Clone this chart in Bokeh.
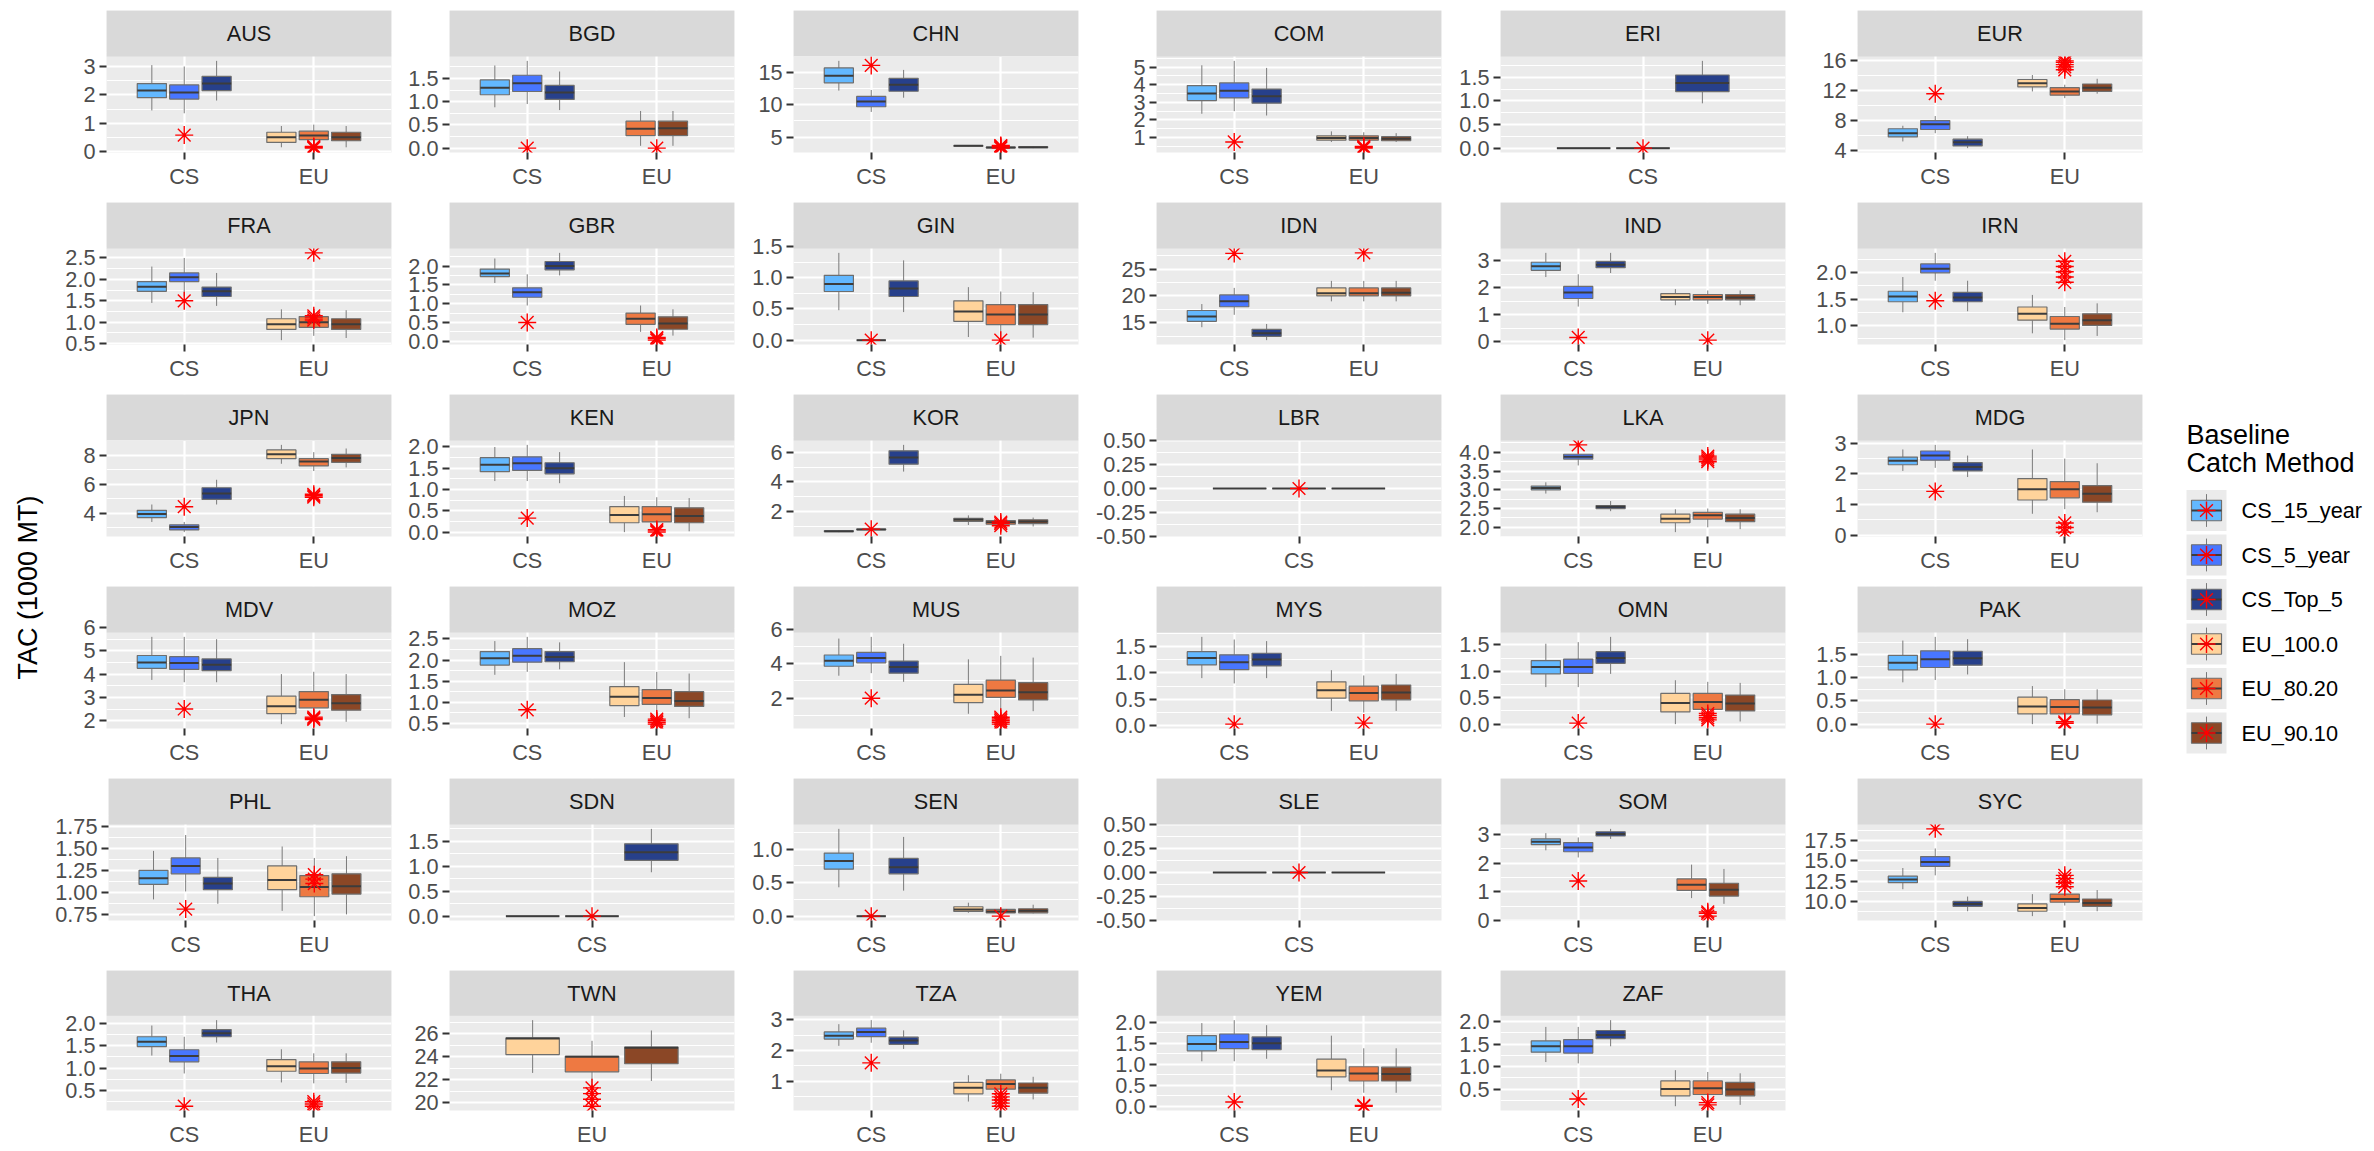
import numpy as np
from bokeh.plotting import figure
from bokeh.models import Range1d, FixedTicker, PrintfTickFormatter, Spacer, ColumnDataSource
from bokeh.layouts import row, column
from bokeh.core.properties import value
from bokeh.embed import file_html
from bokeh.resources import INLINE

FONT = "Liberation Sans"

countries = ["AUS", "BGD", "CHN", "COM", "ERI", "EUR",
             "FRA", "GBR", "GIN", "IDN", "IND", "IRN",
             "JPN", "KEN", "KOR", "LBR", "LKA", "MDG",
             "MDV", "MOZ", "MUS", "MYS", "OMN", "PAK",
             "PHL", "SDN", "SEN", "SLE", "SOM", "SYC",
             "THA", "TWN", "TZA", "YEM", "ZAF"]

methods = ["CS_15_year", "CS_5_year", "CS_Top_5", "EU_100.0", "EU_80.20", "EU_90.10"]
method_colors = ["#63B8FF", "#4876FF", "#27408B", "#FFD39B", "#EE7942", "#8B4726"]

# five-number summaries per country: (lower whisker, Q1, median, Q3, upper whisker)
cs_15_year = [
    (1.45, 1.9, 2.15, 2.4, 3.05), (0.88, 1.15, 1.3, 1.47, 1.78), (12.2, 13.4, 14.5, 15.7, 16.8),
    (2.35, 3.1, 3.5, 3.95, 5.1), (0, 0, 0, 0, 0), (5.2, 5.8, 6.3, 6.9, 7.3),
    (1.45, 1.72, 1.83, 1.95, 2.3), (1.55, 1.72, 1.8, 1.92, 2.2), (0.48, 0.78, 0.9, 1.04, 1.4),
    (14.2, 15.3, 16.2, 17.3, 18.5), (2.4, 2.65, 2.8, 2.95, 3.3), (1.25, 1.45, 1.55, 1.65, 1.92),
    (3.4, 3.7, 3.95, 4.2, 4.6), (1.2, 1.42, 1.58, 1.75, 2.0), (0.62, 0.66, 0.68, 0.71, 0.75),
    (0, 0, 0, 0, 0), (2.9, 3.0, 3.05, 3.1, 3.2), (2.1, 2.3, 2.43, 2.55, 2.8),
    (3.75, 4.25, 4.5, 4.8, 5.6), (1.65, 1.88, 2.04, 2.2, 2.45), (3.3, 3.85, 4.17, 4.5, 5.45),
    (0.9, 1.15, 1.28, 1.4, 1.68), (0.7, 0.95, 1.08, 1.2, 1.52), (0.9, 1.17, 1.32, 1.48, 1.8),
    (0.92, 1.09, 1.16, 1.25, 1.47), (0, 0, 0, 0, 0), (0.43, 0.7, 0.82, 0.94, 1.3),
    (0, 0, 0, 0, 0), (2.45, 2.65, 2.75, 2.85, 3.05), (11.5, 12.3, 12.7, 13.1, 14.1),
    (1.28, 1.48, 1.59, 1.7, 1.95), None, (2.15, 2.37, 2.48, 2.6, 2.85),
    (1.07, 1.32, 1.48, 1.68, 1.98), (1.1, 1.32, 1.45, 1.57, 1.88),
]
cs_5_year = [
    (1.35, 1.85, 2.08, 2.35, 3.0), (0.95, 1.22, 1.4, 1.57, 1.88), (8.9, 9.7, 10.5, 11.3, 12.3),
    (2.5, 3.25, 3.65, 4.1, 5.35), (0, 0, 0, 0, 0), (6.3, 6.8, 7.5, 8.0, 8.6),
    (1.6, 1.95, 2.05, 2.15, 2.5), (0.95, 1.17, 1.3, 1.42, 1.78), (0, 0, 0, 0, 0),
    (16.5, 18.0, 19.0, 20.2, 21.5), (1.3, 1.6, 1.82, 2.05, 2.5), (1.85, 2.0, 2.08, 2.17, 2.38),
    (2.7, 2.85, 3.05, 3.2, 3.4), (1.2, 1.45, 1.62, 1.77, 2.05), (0.74, 0.78, 0.8, 0.83, 0.87),
    (0, 0, 0, 0, 0), (3.65, 3.82, 3.88, 3.95, 4.15), (2.2, 2.45, 2.6, 2.75, 2.95),
    (3.65, 4.2, 4.48, 4.75, 5.6), (1.72, 1.95, 2.1, 2.27, 2.55), (3.45, 4.05, 4.32, 4.65, 5.55),
    (0.8, 1.06, 1.2, 1.34, 1.63), (0.7, 0.96, 1.08, 1.23, 1.55), (0.95, 1.22, 1.4, 1.58, 1.88),
    (1.01, 1.21, 1.3, 1.39, 1.65), (0, 0, 0, 0, 0), (0, 0, 0, 0, 0),
    (0, 0, 0, 0, 0), (2.2, 2.4, 2.55, 2.72, 2.9), (13.2, 14.3, 14.85, 15.5, 16.5),
    (0.88, 1.14, 1.27, 1.41, 1.7), None, (2.25, 2.45, 2.6, 2.72, 2.98),
    (1.07, 1.37, 1.53, 1.72, 2.05), (1.07, 1.3, 1.45, 1.6, 1.88),
]
cs_top_5 = [
    (1.8, 2.15, 2.4, 2.65, 3.2), (0.82, 1.05, 1.2, 1.35, 1.65), (11.1, 12.1, 13.1, 14.1, 15.4),
    (2.25, 2.95, 3.35, 3.75, 4.95), (0.95, 1.2, 1.38, 1.55, 1.85), (4.3, 4.6, 5.1, 5.5, 5.9),
    (1.38, 1.6, 1.72, 1.82, 2.15), (1.75, 1.9, 2.0, 2.12, 2.35), (0.45, 0.7, 0.83, 0.95, 1.28),
    (11.8, 12.5, 13.1, 13.8, 14.8), (2.55, 2.75, 2.86, 2.98, 3.3), (1.27, 1.45, 1.53, 1.63, 1.85),
    (4.6, 4.95, 5.35, 5.75, 6.3), (1.15, 1.37, 1.5, 1.63, 1.88), (4.7, 5.2, 5.65, 6.1, 6.5),
    (0, 0, 0, 0, 0), (2.43, 2.5, 2.55, 2.58, 2.7), (1.9, 2.1, 2.23, 2.37, 2.6),
    (3.65, 4.15, 4.4, 4.65, 5.5), (1.78, 1.96, 2.07, 2.2, 2.42), (2.95, 3.45, 3.8, 4.15, 5.15),
    (0.9, 1.13, 1.25, 1.37, 1.6), (0.95, 1.15, 1.25, 1.37, 1.65), (1.07, 1.27, 1.42, 1.57, 1.83),
    (0.87, 1.03, 1.1, 1.17, 1.39), (0.88, 1.12, 1.28, 1.45, 1.75), (0.38, 0.63, 0.73, 0.86, 1.18),
    (0, 0, 0, 0, 0), (2.85, 2.95, 3.02, 3.1, 3.2), (8.8, 9.4, 9.7, 10.0, 10.6),
    (1.57, 1.7, 1.78, 1.86, 2.07), None, (2.05, 2.2, 2.32, 2.43, 2.65),
    (1.13, 1.35, 1.5, 1.65, 1.93), (1.45, 1.62, 1.7, 1.8, 2.03),
]
eu_100_0 = [
    (0.15, 0.32, 0.5, 0.68, 0.9), None, (3.55, 3.6, 3.65, 3.7, 3.75),
    (0.75, 0.85, 0.98, 1.1, 1.35), None, (11.9, 12.5, 13.0, 13.5, 14.1),
    (0.58, 0.83, 0.95, 1.08, 1.3), None, (0.05, 0.3, 0.46, 0.63, 0.85),
    (19.0, 20.0, 20.5, 21.5, 22.8), (1.35, 1.55, 1.66, 1.78, 1.95), (0.85, 1.1, 1.22, 1.35, 1.58),
    (7.4, 7.75, 8.05, 8.35, 8.7), (0.0, 0.22, 0.4, 0.6, 0.85), (1.1, 1.35, 1.45, 1.55, 1.75),
    None, (1.87, 2.12, 2.23, 2.35, 2.48), (0.7, 1.15, 1.5, 1.85, 2.8),
    (1.85, 2.3, 2.62, 3.05, 4.0), (0.65, 0.92, 1.13, 1.37, 1.95), (1.1, 1.75, 2.2, 2.8, 4.25),
    (0.28, 0.52, 0.67, 0.83, 1.05), (0.0, 0.23, 0.4, 0.58, 0.83), (0.0, 0.22, 0.38, 0.58, 0.82),
    (0.79, 1.03, 1.14, 1.3, 1.52), None, (0.05, 0.07, 0.1, 0.14, 0.2),
    None, None, (8.2, 8.8, 9.2, 9.7, 10.9),
    (0.68, 0.93, 1.04, 1.19, 1.42), (22.6, 24.2, 25.6, 25.65, 27.2), (0.35, 0.6, 0.8, 0.97, 1.2),
    (0.38, 0.7, 0.85, 1.12, 1.68), (0.12, 0.35, 0.5, 0.68, 0.92),
]
eu_80_20 = [
    (0.15, 0.42, 0.57, 0.72, 0.95), (0.05, 0.27, 0.42, 0.58, 0.8), (3.3, 3.35, 3.4, 3.45, 3.5),
    (0.75, 0.85, 0.98, 1.1, 1.3), None, (11.0, 11.4, 11.9, 12.4, 12.8),
    (0.68, 0.88, 1.0, 1.13, 1.32), (0.25, 0.45, 0.6, 0.75, 0.95), (0.02, 0.25, 0.41, 0.57, 0.78),
    (19.0, 20.0, 20.5, 21.5, 22.8), (1.4, 1.55, 1.66, 1.75, 1.9), (0.72, 0.93, 1.03, 1.17, 1.35),
    (6.9, 7.25, 7.55, 7.75, 8.2), (0.03, 0.24, 0.42, 0.6, 0.82), (1.0, 1.15, 1.28, 1.4, 1.55),
    None, (2.0, 2.22, 2.32, 2.4, 2.5), (0.85, 1.22, 1.5, 1.75, 2.5),
    (2.0, 2.55, 2.9, 3.25, 4.1), (0.6, 0.95, 1.1, 1.3, 1.72), (1.3, 2.05, 2.45, 3.05, 4.45),
    (0.25, 0.47, 0.62, 0.75, 0.95), (0.05, 0.28, 0.42, 0.58, 0.8), (0.0, 0.22, 0.37, 0.53, 0.75),
    (0.73, 0.95, 1.06, 1.19, 1.39), None, (0.03, 0.05, 0.07, 0.1, 0.13),
    None, (0.78, 1.05, 1.25, 1.45, 1.95), (9.5, 9.9, 10.3, 10.9, 11.6),
    (0.66, 0.88, 0.99, 1.14, 1.33), (20.9, 22.7, 24.0, 24.05, 25.4), (0.48, 0.75, 0.92, 1.05, 1.25),
    (0.32, 0.6, 0.78, 0.94, 1.38), (0.15, 0.38, 0.52, 0.68, 0.88),
]
eu_90_10 = [
    (0.15, 0.38, 0.5, 0.68, 0.9), (0.05, 0.27, 0.43, 0.58, 0.8), (3.3, 3.38, 3.45, 3.5, 3.55),
    (0.75, 0.82, 0.93, 1.05, 1.25), None, (11.6, 11.9, 12.4, 12.9, 13.6),
    (0.63, 0.83, 0.95, 1.08, 1.28), (0.15, 0.32, 0.47, 0.65, 0.85), (0.04, 0.25, 0.41, 0.57, 0.77),
    (19.0, 20.0, 20.6, 21.5, 22.8), (1.35, 1.55, 1.64, 1.75, 1.9), (0.8, 1.0, 1.1, 1.22, 1.42),
    (7.15, 7.5, 7.8, 8.05, 8.45), (0.02, 0.22, 0.38, 0.57, 0.8), (1.0, 1.2, 1.33, 1.45, 1.6),
    None, (1.95, 2.15, 2.25, 2.35, 2.48), (0.75, 1.08, 1.35, 1.62, 2.35),
    (1.95, 2.45, 2.75, 3.12, 4.0), (0.62, 0.9, 1.03, 1.25, 1.68), (1.25, 1.9, 2.35, 2.9, 4.35),
    (0.28, 0.49, 0.63, 0.77, 0.98), (0.05, 0.25, 0.39, 0.55, 0.78), (0.01, 0.2, 0.36, 0.52, 0.75),
    (0.75, 0.98, 1.07, 1.21, 1.41), None, (0.04, 0.05, 0.08, 0.11, 0.17),
    None, (0.58, 0.85, 1.07, 1.3, 1.8), (8.8, 9.4, 9.8, 10.3, 11.4),
    (0.67, 0.89, 1.0, 1.14, 1.33), (21.9, 23.4, 24.8, 24.85, 26.3), (0.42, 0.62, 0.8, 0.95, 1.15),
    (0.32, 0.6, 0.77, 0.93, 1.38), (0.15, 0.35, 0.49, 0.65, 0.85),
]
series = [cs_15_year, cs_5_year, cs_top_5, eu_100_0, eu_80_20, eu_90_10]

# baseline catch values (red asterisks) at the CS and EU positions
cs_points = [[0.58], [0.0], [16.1], [0.75], [0.0], [11.6],
             [1.5], [0.5], [0.0], [27.9], [0.15], [1.47],
             [4.45], [0.33], [0.82], [0.0], [4.2], [1.43],
             [2.5], [0.82], [2.0], [0.03], [0.02], [0.0],
             [0.81], [0.0], [0.0], [0.0], [1.38], [18.9],
             [0.15], [], [1.6], [0.1], [0.28]]
eu_points = [[0.12, 0.15, 0.18], [0.0], [3.3, 3.45, 3.6, 3.7], [0.4, 0.45, 0.5], [], [14.8, 15.2, 15.5, 15.8, 16.0],
             [2.62, 1.05, 1.1, 1.15], [0.03, 0.07, 0.1], [0.0], [28.0], [0.05], [1.82, 1.92, 2.02, 2.12, 2.22],
             [5.1, 5.2, 5.3], [0.0, 0.03, 0.06], [1.05, 1.2, 1.3], [], [3.75, 3.8, 3.85, 3.9], [0.1, 0.25, 0.4],
             [2.05, 2.1, 2.15], [0.48, 0.52, 0.56, 0.6], [0.5, 0.6, 0.7, 0.8, 0.9], [0.05], [0.08, 0.12, 0.16, 0.2], [0.02, 0.05],
             [1.1, 1.15, 1.2], [], [0.0], [], [0.15, 0.25, 0.3], [11.8, 12.3, 12.8, 13.2],
             [0.15, 0.2, 0.25], [19.7, 20.3, 20.8, 21.3], [0.2, 0.3, 0.4, 0.5, 0.6], [0.0, 0.02], [0.15, 0.2]]

y_ticks = [[0, 1, 2, 3], [0, 0.5, 1, 1.5], [5, 10, 15], [1, 2, 3, 4, 5], [0, 0.5, 1, 1.5], [4, 8, 12, 16],
           [0.5, 1, 1.5, 2, 2.5], [0, 0.5, 1, 1.5, 2], [0, 0.5, 1, 1.5], [15, 20, 25], [0, 1, 2, 3], [1, 1.5, 2],
           [4, 6, 8], [0, 0.5, 1, 1.5, 2], [2, 4, 6], [-0.5, -0.25, 0, 0.25, 0.5], [2, 2.5, 3, 3.5, 4], [0, 1, 2, 3],
           [2, 3, 4, 5, 6], [0.5, 1, 1.5, 2, 2.5], [2, 4, 6], [0, 0.5, 1, 1.5], [0, 0.5, 1, 1.5], [0, 0.5, 1, 1.5],
           [0.75, 1, 1.25, 1.5, 1.75], [0, 0.5, 1, 1.5], [0, 0.5, 1], [-0.5, -0.25, 0, 0.25, 0.5], [0, 1, 2, 3], [10, 12.5, 15, 17.5],
           [0.5, 1, 1.5, 2], [20, 22, 24, 26], [1, 2, 3], [0, 0.5, 1, 1.5, 2], [0.5, 1, 1.5, 2]]

# outliers that are not drawn but still widen the y scale
undrawn_extent = {"PHL": 1.72}

# ---- layout (pixels) ----
NCOL = 6
FRAME_W, FRAME_H, STRIP_H = 285, 96, 46
BOTTOM, LAST_BOTTOM, TOP_GAP = 50, 37, 10
COL_LEFT = [54, 47, 48, 67, 48, 61]
COL_RIGHT = 11
YTITLE_W, LEGEND_W = 52, 220

TXT_FS = "21.7px"      # tick labels, strip labels, legend labels
TITLE_FS = "27px"      # axis title, legend title

BG, GRID, STRIP_BG = "#EBEBEB", "#FFFFFF", "#D9D9D9"
BOX_LINE, WHISKER, MEDIAN = "#6E6E6E", "#7A7A7A", "#3C3C3C"
STAR = "#FF0000"
AXIS_TXT = "#4D4D4D"


def dodge(n):
    return {3: [-0.25, 0.0, 0.25], 2: [-0.125, 0.125], 1: [0.0]}[n]


def decimals(ticks):
    d = 0
    for t in ticks:
        s = f"{t:.6f}".rstrip("0").rstrip(".")
        if "." in s:
            d = max(d, len(s.split(".")[1]))
    return d


def panel_fig(i, left, bottom):
    name = countries[i]
    groups = []
    for label, idxs, pts in (("CS", [0, 1, 2], cs_points[i]), ("EU", [3, 4, 5], eu_points[i])):
        present = [k for k in idxs if series[k][i] is not None]
        if present:
            groups.append((label, present, pts))

    data = dict(x=[], left=[], right=[], lo=[], q1=[], med=[], q3=[], hi=[], color=[])
    px, py = [], []
    for g, (label, present, pts) in enumerate(groups, start=1):
        for k, off in zip(present, dodge(len(present))):
            lo, q1, md, q3, hi = series[k][i]
            x = g + off
            data["x"].append(x)
            data["left"].append(x - 0.1125)
            data["right"].append(x + 0.1125)
            data["lo"].append(lo); data["q1"].append(q1); data["med"].append(md)
            data["q3"].append(q3); data["hi"].append(hi)
            data["color"].append(method_colors[k])
        px += [g] * len(pts)
        py += pts

    vals = data["lo"] + data["hi"] + py
    ymin, ymax = min(vals), max(vals)
    if name in undrawn_extent:
        ymax = max(ymax, undrawn_extent[name])
    span = ymax - ymin
    if span == 0:
        y0, y1 = ymin - 0.5, ymax + 0.5
    else:
        y0, y1 = ymin - 0.05 * span, ymax + 0.05 * span
    # the facet strip sits on top of the data area, inside the same frame
    y_strip = y1 + (y1 - y0) * STRIP_H / FRAME_H

    ng = len(groups)
    x0, x1 = 0.4, ng + 0.6
    p = figure(width=left + FRAME_W + COL_RIGHT, height=STRIP_H + FRAME_H + bottom,
               x_range=Range1d(x0, x1), y_range=Range1d(y0, y_strip),
               title=None, toolbar_location=None, output_backend="svg",
               min_border_left=left, min_border_right=COL_RIGHT, min_border_top=0, min_border_bottom=bottom,
               background_fill_color=BG, border_fill_color="white", outline_line_color=None)

    ticks = y_ticks[i]
    step = ticks[1] - ticks[0]
    minors = [ticks[0] - step / 2] + [t + step / 2 for t in ticks]
    p.yaxis.ticker = FixedTicker(ticks=ticks, minor_ticks=minors)
    p.yaxis.formatter = PrintfTickFormatter(format=f"%.{decimals(ticks)}f")
    p.xaxis.ticker = FixedTicker(ticks=list(range(1, ng + 1)))
    p.xaxis.major_label_overrides = {g: lab for g, (lab, _, _) in enumerate(groups, start=1)}

    for ax in (p.xaxis[0], p.yaxis[0]):
        ax.axis_line_color = None
        ax.major_tick_line_color = "#333333"
        ax.major_tick_line_width = 2
        ax.major_tick_out = 7
        ax.major_tick_in = 0
        ax.minor_tick_line_color = None
        ax.major_label_text_font = FONT
        ax.major_label_text_font_size = TXT_FS
        ax.major_label_text_color = AXIS_TXT
    p.xaxis.major_label_standoff = 4
    p.yaxis.major_label_standoff = 4

    p.xgrid.grid_line_color = GRID
    p.xgrid.grid_line_width = 2.2
    p.ygrid.grid_line_color = GRID
    p.ygrid.grid_line_width = 2.2
    p.ygrid.minor_grid_line_color = GRID
    p.ygrid.minor_grid_line_width = 1.1

    src = ColumnDataSource(data)
    p.segment(x0="x", y0="lo", x1="x", y1="q1", source=src, line_color=WHISKER, line_width=1)
    p.segment(x0="x", y0="q3", x1="x", y1="hi", source=src, line_color=WHISKER, line_width=1)
    p.quad(left="left", right="right", bottom="q1", top="q3", source=src,
           fill_color="color", line_color=BOX_LINE, line_width=1.2)
    p.segment(x0="left", y0="med", x1="right", y1="med", source=src, line_color=MEDIAN, line_width=2)
    if px:
        p.scatter(x=px, y=py, marker="asterisk", size=18, line_color=STAR, line_width=1.4)

    # facet strip with the country code
    p.quad(left=[x0], right=[x1], bottom=[y1], top=[y_strip], fill_color=STRIP_BG, line_color=None)
    p.text(x=[(x0 + x1) / 2], y=[(y1 + y_strip) / 2], text=[name], text_align="center",
           text_baseline="middle", text_font=value(FONT), text_font_size=TXT_FS, text_color="#1A1A1A")
    return p


rows = [Spacer(width=sum(COL_LEFT) + NCOL * (FRAME_W + COL_RIGHT), height=TOP_GAP)]
nrows = (len(countries) + NCOL - 1) // NCOL
for r in range(nrows):
    bottom = LAST_BOTTOM if r == nrows - 1 else BOTTOM
    cells = []
    for c in range(NCOL):
        i = r * NCOL + c
        left = COL_LEFT[c]
        if i < len(countries):
            cells.append(panel_fig(i, left, bottom))
        else:
            cells.append(Spacer(width=left + FRAME_W + COL_RIGHT, height=STRIP_H + FRAME_H + bottom))
    rows.append(row(cells, spacing=0))
grid = column(rows, spacing=0)

TOTAL_H = TOP_GAP + (nrows - 1) * (STRIP_H + FRAME_H + BOTTOM) + STRIP_H + FRAME_H + LAST_BOTTOM

# y-axis title
yt = figure(width=YTITLE_W, height=TOTAL_H, x_range=Range1d(0, YTITLE_W), y_range=Range1d(0, TOTAL_H),
            x_axis_type=None, y_axis_type=None, title=None, toolbar_location=None, output_backend="svg",
            min_border=0, outline_line_color=None, background_fill_color="white")
yt.grid.visible = False
yt.text(x=[27], y=[TOTAL_H - 587], text=["TAC (1000 MT)"], angle=np.pi / 2,
        text_align="center", text_baseline="middle", text_font=value(FONT),
        text_font_size=TITLE_FS, text_color="#000000")

# legend
lg = figure(width=LEGEND_W, height=TOTAL_H, x_range=Range1d(0, LEGEND_W), y_range=Range1d(TOTAL_H, 0),
            x_axis_type=None, y_axis_type=None, title=None, toolbar_location=None, output_backend="svg",
            min_border=0, outline_line_color=None, background_fill_color="white")
lg.grid.visible = False
KX, KW, KH, KP, KC0 = 33, 40, 41, 44.5, 510
lg.text(x=[KX, KX], y=[434, 462], text=["Baseline", "Catch Method"], text_align="left",
        text_baseline="middle", text_font=value(FONT), text_font_size=TITLE_FS, text_color="#000000")
n = len(methods)
kcy = [KC0 + KP * j for j in range(n)]
kcx = [KX + KW / 2] * n
lg.quad(left=[KX] * n, right=[KX + KW] * n, top=[c - KH / 2 for c in kcy], bottom=[c + KH / 2 for c in kcy],
        fill_color=BG, line_color=None)
lg.segment(x0=kcx, y0=[c - 0.4 * KH for c in kcy], x1=kcx, y1=[c + 0.4 * KH for c in kcy],
           line_color=WHISKER, line_width=1)
lg.quad(left=[KX + 0.125 * KW] * n, right=[KX + 0.875 * KW] * n,
        top=[c - 0.25 * KH for c in kcy], bottom=[c + 0.25 * KH for c in kcy],
        fill_color=method_colors, line_color=BOX_LINE, line_width=1.2)
lg.segment(x0=[KX + 0.125 * KW] * n, y0=kcy, x1=[KX + 0.875 * KW] * n, y1=kcy,
           line_color=MEDIAN, line_width=2)
lg.scatter(x=kcx, y=kcy, marker="asterisk", size=18, line_color=STAR, line_width=1.4)
lg.text(x=[KX + KW + 15] * n, y=kcy, text=methods, text_align="left", text_baseline="middle",
        text_font=value(FONT), text_font_size=TXT_FS, text_color="#000000")

layout = row(yt, grid, lg, spacing=0)
open("out.html", "w").write(file_html(layout, INLINE))
